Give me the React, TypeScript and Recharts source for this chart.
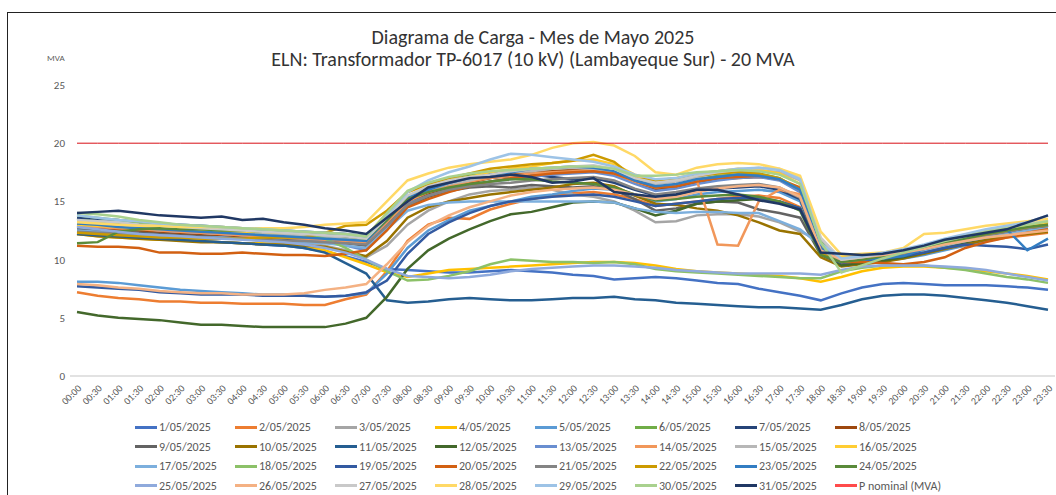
import { LineChart, Line, XAxis, YAxis } from "recharts";

const FONT =
  "Carlito, Calibri, 'Liberation Sans Narrow', 'DejaVu Sans Condensed', Roboto, sans-serif";

const times = [
  "00:00", "00:30", "01:00", "01:30", "02:00", "02:30", "03:00", "03:30",
  "04:00", "04:30", "05:00", "05:30", "06:00", "06:30", "07:00", "07:30",
  "08:00", "08:30", "09:00", "09:30", "10:00", "10:30", "11:00", "11:30",
  "12:00", "12:30", "13:00", "13:30", "14:00", "14:30", "15:00", "15:30",
  "16:00", "16:30", "17:00", "17:30", "18:00", "18:30", "19:00", "19:30",
  "20:00", "20:30", "21:00", "21:30", "22:00", "22:30", "23:00", "23:30",
];

const dayLabels = [
  "1/05/2025", "2/05/2025", "3/05/2025", "4/05/2025", "5/05/2025", "6/05/2025",
  "7/05/2025", "8/05/2025", "9/05/2025", "10/05/2025", "11/05/2025", "12/05/2025",
  "13/05/2025", "14/05/2025", "15/05/2025", "16/05/2025", "17/05/2025", "18/05/2025",
  "19/05/2025", "20/05/2025", "21/05/2025", "22/05/2025", "23/05/2025", "24/05/2025",
  "25/05/2025", "26/05/2025", "27/05/2025", "28/05/2025", "29/05/2025", "30/05/2025",
  "31/05/2025",
];

const dayColors = [
  "#4472C4", "#ED7D31", "#A5A5A5", "#FFC000", "#5B9BD5", "#70AD47",
  "#264478", "#9E480E", "#636363", "#997300", "#255E91", "#43682B",
  "#698ED0", "#F1975A", "#B7B7B7", "#FFCD33", "#7CAFDD", "#8CC168",
  "#335AA1", "#D26012", "#848484", "#CC9A00", "#327DC2", "#5A8A39",
  "#8FAADC", "#F4B183", "#C9C9C9", "#FFD966", "#9DC3E6", "#A9D18E",
  "#203864",
];

// MVA por media hora, 1/05 .. 31/05
const d01 = [
  12.4, 12.3, 12.1, 12.0, 11.9, 11.8, 11.6, 11.5, 11.4, 11.3, 11.2, 11.0,
  10.7, 10.3, 9.8, 9.2, 9.1, 9.0, 8.9, 8.9, 9.0, 9.1, 9.0, 8.9,
  8.7, 8.6, 8.3, 8.4, 8.5, 8.4, 8.2, 8.0, 7.9, 7.5, 7.2, 6.9,
  6.5, 7.1, 7.6, 7.9, 8.0, 7.9, 7.8, 7.8, 7.8, 7.7, 7.6, 7.4,
];
const d02 = [
  7.2, 6.9, 6.7, 6.6, 6.4, 6.4, 6.3, 6.3, 6.2, 6.2, 6.2, 6.1,
  6.1, 6.6, 7.0, 9.0, 11.6, 13.0, 13.6, 13.5, 14.3, 14.8, 15.2, 15.5,
  15.7, 15.8, 15.6, 15.2, 14.6, 14.8, 15.0, 15.2, 15.4, 15.5, 15.3, 14.5,
  10.5, 9.8, 9.9, 10.0, 10.2, 10.5, 10.9, 11.2, 11.6, 11.9, 12.1, 12.3,
];
const d03 = [
  12.9, 12.7, 12.6, 12.4, 12.3, 12.2, 12.1, 11.9, 11.8, 11.6, 11.5, 11.4,
  11.2, 10.8, 10.2, 11.2, 13.0, 14.2, 15.0, 15.6, 15.9, 16.0, 16.2, 16.0,
  15.6, 15.4, 15.0, 14.2, 13.2, 13.3, 13.8, 13.9, 13.9, 13.7, 13.2, 12.4,
  11.6, 9.6, 9.7, 9.9, 10.2, 10.6, 11.0, 11.4, 11.8, 12.1, 12.4, 12.6,
];
const d04 = [
  12.2, 12.0, 11.9, 11.8, 11.7, 11.7, 11.6, 11.5, 11.4, 11.4, 11.3, 11.1,
  10.8, 10.2, 9.6, 8.9, 8.5, 8.8, 9.1, 9.2, 9.3, 9.4, 9.5, 9.6,
  9.7, 9.8, 9.8, 9.7, 9.5, 9.2, 9.0, 8.9, 8.8, 8.7, 8.6, 8.4,
  8.1, 8.5, 9.0, 9.3, 9.4, 9.4, 9.3, 9.2, 9.0, 8.8, 8.6, 8.3,
];
const d05 = [
  8.1, 8.1, 8.0, 7.8, 7.6, 7.4, 7.3, 7.2, 7.1, 7.0, 7.0, 6.9,
  6.8, 6.9, 7.1, 8.8, 11.0, 12.5, 13.4, 14.2, 14.6, 15.0, 15.4, 15.6,
  15.9, 16.1, 16.0, 15.5, 15.0, 15.2, 15.6, 15.8, 15.9, 16.0, 15.8, 15.0,
  11.0, 9.7, 9.8, 9.9, 10.1, 10.4, 10.8, 11.2, 11.6, 12.0, 12.3, 12.6,
];
const d06 = [
  13.5, 13.3, 13.1, 12.9, 12.8, 12.7, 12.6, 12.5, 12.4, 12.3, 12.2, 12.1,
  12.0, 11.9, 11.8, 13.6, 15.4, 16.2, 16.8, 17.2, 17.5, 17.6, 17.8, 17.6,
  17.7, 17.8, 17.5, 16.8, 16.2, 16.4, 16.9, 17.2, 17.3, 17.4, 17.0, 16.0,
  11.5, 9.9, 10.2, 10.4, 10.7, 11.1, 11.5, 11.9, 12.3, 12.6, 12.9, 13.1,
];
const d07 = [
  13.6, 13.5, 13.4, 13.2, 13.1, 13.0, 12.9, 12.8, 12.7, 12.6, 12.5, 12.4,
  12.3, 12.2, 12.0, 13.8, 15.2, 15.9, 16.4, 16.8, 17.0, 17.2, 17.3, 17.1,
  16.9, 17.0, 16.6, 16.0, 15.5, 15.6, 15.9, 16.1, 16.2, 16.3, 16.0, 15.2,
  10.6, 10.1, 10.3, 10.5, 10.8, 11.2, 11.6, 12.0, 12.4, 12.8, 13.1, 13.4,
];
const d08 = [
  12.8, 12.7, 12.6, 12.5, 12.3, 12.2, 12.1, 12.0, 11.9, 11.9, 11.8, 11.7,
  11.6, 11.5, 11.3, 13.0, 14.9, 15.6, 16.1, 16.6, 17.0, 17.3, 17.5, 17.6,
  17.7, 17.6, 17.3, 16.6, 16.0, 16.2, 16.6, 16.9, 17.0, 17.1, 16.9, 16.0,
  10.9, 9.8, 10.0, 10.2, 10.4, 10.8, 11.3, 11.7, 12.1, 12.5, 12.7, 12.9,
];
const d09 = [
  12.6, 12.5, 12.4, 12.3, 12.2, 12.1, 12.0, 11.9, 11.8, 11.7, 11.7, 11.6,
  11.5, 11.4, 11.2, 12.8, 14.6, 15.4, 15.9, 16.2, 16.3, 16.2, 16.4, 16.3,
  16.2, 16.3, 16.0, 15.2, 14.2, 14.4, 14.8, 15.0, 14.9, 14.3, 14.0, 13.6,
  10.4, 9.6, 9.8, 10.0, 10.3, 10.6, 11.0, 11.4, 11.8, 12.1, 12.4, 12.7,
];
const d10 = [
  12.2, 12.0, 11.9, 11.8, 11.7, 11.6, 11.5, 11.5, 11.4, 11.3, 11.3, 11.2,
  11.1, 10.7, 10.3, 11.6, 13.6, 14.5, 15.0, 15.3, 15.6, 15.8, 16.0, 16.2,
  16.5, 16.6, 16.3, 15.5, 14.8, 14.7, 14.4, 14.2, 13.8, 13.2, 12.5, 12.2,
  10.2, 9.4, 9.6, 9.8, 10.1, 10.5, 10.9, 11.3, 11.7, 12.0, 12.2, 12.4,
];
const d11 = [
  12.2, 12.1, 12.0, 11.9, 11.8, 11.7, 11.6, 11.5, 11.4, 11.3, 11.2, 11.0,
  10.6, 9.7, 8.8, 6.5, 6.3, 6.4, 6.6, 6.7, 6.6, 6.5, 6.5, 6.6,
  6.7, 6.7, 6.8, 6.6, 6.5, 6.3, 6.2, 6.1, 6.0, 5.9, 5.9, 5.8,
  5.7, 6.1, 6.6, 6.9, 7.0, 7.0, 6.9, 6.7, 6.5, 6.3, 6.0, 5.7,
];
const d12 = [
  5.5, 5.2, 5.0, 4.9, 4.8, 4.6, 4.4, 4.4, 4.3, 4.2, 4.2, 4.2,
  4.2, 4.5, 5.0, 6.8, 9.2, 10.8, 11.8, 12.6, 13.3, 13.9, 14.1, 14.5,
  14.9, 15.0, 14.9, 14.4, 13.8, 14.2, 14.8, 15.0, 15.1, 15.2, 15.0, 14.4,
  10.8, 9.5, 9.7, 9.9, 10.2, 10.6, 11.0, 11.5, 11.9, 12.3, 12.6, 12.9,
];
const d13 = [
  13.0, 12.9, 12.8, 12.7, 12.5, 12.4, 12.3, 12.2, 12.1, 12.0, 11.9, 11.8,
  11.6, 11.2, 10.8, 12.8, 14.8, 15.5, 16.0, 16.4, 16.7, 16.9, 17.1, 17.3,
  17.4, 17.5, 17.2, 16.5, 15.9, 16.1, 16.5, 16.8, 17.0, 17.1, 16.8, 15.8,
  10.7, 9.9, 10.1, 10.3, 10.6, 11.0, 11.4, 11.8, 12.2, 12.5, 12.8, 13.0,
];
const d14 = [
  12.9, 12.8, 12.7, 12.6, 12.5, 12.4, 12.3, 12.2, 12.1, 12.0, 11.9, 11.8,
  11.7, 11.6, 11.4, 13.2, 15.0, 15.8, 16.3, 16.7, 17.0, 17.2, 17.4, 17.5,
  17.6, 17.7, 17.4, 16.7, 16.2, 16.4, 16.8, 11.3, 11.2, 15.0, 16.0, 15.6,
  10.8, 9.9, 10.1, 10.4, 10.7, 11.1, 11.5, 11.9, 12.3, 12.6, 12.9, 13.2,
];
const d15 = [
  13.2, 13.1, 13.0, 12.9, 12.8, 12.7, 12.6, 12.5, 12.4, 12.3, 12.2, 12.1,
  12.0, 11.9, 11.7, 13.5, 15.3, 16.0, 16.5, 16.8, 17.2, 17.5, 17.6, 17.8,
  17.9, 17.8, 17.5, 16.9, 16.5, 16.7, 17.1, 17.4, 17.6, 17.7, 17.5, 16.8,
  11.8, 10.0, 10.2, 10.5, 10.8, 11.2, 11.6, 12.0, 12.4, 12.7, 13.0, 13.3,
];
const d16 = [
  13.0, 12.9, 12.8, 12.7, 12.6, 12.6, 12.5, 12.5, 12.4, 12.4, 12.3, 12.3,
  12.2, 12.1, 12.0, 14.0, 15.8, 16.4, 16.8, 17.1, 17.5, 17.8, 18.0, 18.3,
  18.5, 18.6, 18.2, 17.3, 16.8, 17.0, 17.4, 17.6, 17.8, 17.7, 17.4, 16.5,
  11.2, 10.2, 10.3, 10.5, 10.8, 11.2, 11.6, 12.0, 12.4, 12.7, 13.0, 13.2,
];
const d17 = [
  12.5, 12.4, 12.3, 12.2, 12.1, 12.0, 11.9, 11.9, 11.8, 11.7, 11.6, 11.5,
  11.4, 11.2, 11.0, 12.6, 14.2, 14.7, 14.9, 15.0, 15.0, 15.0, 15.0, 15.0,
  15.0, 15.0, 14.9, 14.4, 14.1, 14.0, 14.1, 14.1, 14.0, 14.0, 13.3, 12.6,
  11.2, 9.9, 10.0, 10.2, 10.5, 10.8, 11.2, 11.6, 11.9, 12.2, 12.5, 12.7,
];
const d18 = [
  13.8, 13.6, 13.4, 13.2, 13.0, 12.9, 12.8, 12.7, 12.6, 12.5, 12.4, 12.2,
  11.8, 11.0, 10.0, 9.0, 8.2, 8.3, 8.6, 9.0, 9.6, 10.0, 9.9, 9.8,
  9.8, 9.7, 9.8, 9.6, 9.2, 9.0, 8.9, 8.8, 8.7, 8.6, 8.5, 8.4,
  8.4, 9.0, 9.3, 9.5, 9.5, 9.5, 9.3, 9.1, 8.8, 8.5, 8.3, 8.0,
];
const d19 = [
  7.7, 7.6, 7.5, 7.4, 7.2, 7.1, 7.0, 7.0, 7.0, 6.9, 6.9, 6.9,
  6.8, 6.9, 7.2, 8.2, 10.5, 12.2, 13.2, 14.0, 14.6, 15.0, 15.2, 15.4,
  15.5, 15.6, 15.4, 15.0, 14.6, 14.8, 15.0, 15.2, 15.3, 15.3, 15.0, 14.4,
  10.5, 9.7, 9.9, 10.1, 10.3, 10.6, 11.0, 11.3, 11.2, 11.1, 10.9, 11.3,
];
const d20 = [
  11.2, 11.1, 11.1, 11.0, 10.6, 10.6, 10.5, 10.5, 10.6, 10.5, 10.4, 10.4,
  10.3, 10.5, 10.8, 12.5, 14.5, 15.2, 15.8, 16.3, 16.7, 17.0, 17.2, 17.4,
  17.5, 17.6, 17.4, 16.8, 16.2, 16.3, 16.7, 17.0, 17.1, 17.2, 16.9, 16.2,
  11.0, 9.8, 9.8, 9.7, 9.6, 9.8, 10.2, 11.0, 11.5, 11.9, 12.3, 12.6,
];
const d21 = [
  12.4, 12.3, 12.3, 12.2, 12.1, 12.0, 11.9, 11.8, 11.8, 11.7, 11.6, 11.6,
  11.5, 11.4, 11.3, 12.9, 14.7, 15.5, 16.0, 16.3, 16.5, 16.6, 16.8, 16.9,
  17.0, 17.1, 16.8, 16.1, 15.6, 15.8, 16.1, 16.3, 16.4, 16.5, 16.2, 15.3,
  10.6, 9.8, 10.0, 10.2, 10.5, 10.9, 11.3, 11.7, 12.1, 12.4, 12.7, 12.9,
];
const d22 = [
  12.3, 12.2, 12.1, 12.0, 11.9, 11.9, 11.8, 11.8, 11.8, 11.9, 11.9, 11.9,
  12.3, 12.9, 13.0, 14.2, 15.8, 16.5, 17.0, 17.4, 17.8, 18.0, 18.2, 18.3,
  18.5, 19.0, 18.4, 17.0, 16.8, 17.0, 17.2, 17.4, 17.5, 17.4, 17.0, 16.0,
  10.5, 9.8, 10.0, 10.3, 10.6, 11.0, 11.4, 11.8, 12.2, 12.5, 12.8, 13.0,
];
const d23 = [
  13.1, 13.0, 12.8, 12.7, 12.6, 12.5, 12.4, 12.3, 12.2, 12.1, 12.0, 11.9,
  11.8, 11.7, 11.6, 13.4, 15.3, 16.0, 16.6, 17.0, 17.3, 17.5, 17.8, 17.9,
  18.0, 17.9, 17.6, 16.8, 16.3, 16.5, 16.9, 17.1, 17.3, 17.2, 16.9, 16.0,
  11.0, 9.9, 10.0, 10.1, 10.3, 10.9, 11.4, 11.9, 12.3, 12.6, 10.8, 11.8,
];
const d24 = [
  11.4, 11.5, 12.4, 12.6, 12.7, 12.6, 12.6, 12.5, 12.5, 12.4, 12.4, 12.3,
  12.2, 12.0, 11.8, 13.4, 15.2, 15.8, 16.2, 16.5, 16.7, 16.9, 16.9, 16.7,
  16.6, 16.5, 16.2, 15.6, 15.1, 15.2, 15.4, 15.5, 15.6, 15.4, 15.0, 14.2,
  10.4, 9.8, 10.0, 10.3, 10.6, 11.0, 11.4, 11.8, 12.2, 12.5, 12.8, 13.0,
];
const d25 = [
  12.8, 12.6, 12.4, 12.2, 12.1, 12.0, 11.9, 11.8, 11.7, 11.6, 11.5, 11.3,
  11.0, 10.6, 10.0, 9.2, 8.6, 8.5, 8.4, 8.5, 8.7, 9.0, 9.2, 9.3,
  9.4, 9.5, 9.5, 9.4, 9.3, 9.1, 9.0, 8.9, 8.8, 8.8, 8.8, 8.8,
  8.7, 9.1, 9.4, 9.5, 9.5, 9.5, 9.4, 9.3, 9.1, 8.8, 8.5, 8.2,
];
const d26 = [
  7.9, 7.8, 7.6, 7.5, 7.3, 7.2, 7.1, 7.1, 7.0, 7.0, 7.0, 7.1,
  7.4, 7.6, 7.9, 9.6, 11.5, 12.9, 13.8, 14.5, 15.0, 15.5, 15.8, 16.0,
  16.1, 16.2, 16.0, 15.6, 15.2, 15.4, 15.8, 16.1, 16.3, 16.4, 16.2, 15.4,
  10.8, 10.0, 10.2, 10.4, 10.6, 10.9, 11.3, 11.6, 11.9, 12.1, 12.3, 12.5,
];
const d27 = [
  13.4, 13.3, 13.2, 13.0, 12.9, 12.8, 12.7, 12.6, 12.5, 12.4, 12.3, 12.2,
  12.1, 12.0, 11.8, 13.6, 15.5, 16.3, 16.8, 17.1, 17.3, 17.6, 17.8, 17.9,
  18.0, 18.1, 17.8, 17.0, 16.6, 16.8, 17.2, 17.5, 17.7, 17.9, 17.8, 17.0,
  11.9, 10.0, 10.2, 10.5, 10.8, 11.2, 11.7, 12.1, 12.5, 12.8, 13.1, 13.4,
];
const d28 = [
  13.2, 13.1, 13.0, 12.9, 12.9, 12.8, 12.8, 12.8, 12.7, 12.7, 12.7, 12.8,
  13.0, 13.1, 13.2, 15.0, 16.8, 17.4, 17.9, 18.2, 18.4, 18.6, 19.0, 19.6,
  20.0, 20.1, 19.8, 18.9, 17.5, 17.3, 17.9, 18.2, 18.3, 18.2, 17.8, 17.2,
  12.4, 10.4, 10.5, 10.6, 11.0, 12.2, 12.3, 12.6, 12.9, 13.1, 13.3, 13.5,
];
const d29 = [
  13.8, 13.6, 13.4, 13.3, 13.1, 13.0, 12.9, 12.8, 12.7, 12.6, 12.5, 12.4,
  12.3, 12.2, 12.0, 13.8, 15.8, 16.8, 17.5, 18.0, 18.6, 19.1, 19.0, 18.8,
  18.6, 18.4, 18.0, 17.3, 16.9, 17.0, 17.4, 17.6, 17.8, 17.9, 17.7, 16.9,
  11.4, 10.1, 10.3, 10.6, 10.9, 11.3, 11.8, 12.2, 12.6, 12.9, 13.2, 13.8,
];
const d30 = [
  14.0, 13.9, 13.7, 13.4, 13.2, 13.0, 12.9, 12.8, 12.7, 12.6, 12.5, 12.4,
  12.3, 12.2, 12.0, 14.0, 15.9, 16.6, 17.1, 17.4, 17.6, 17.7, 17.8, 17.9,
  18.0, 18.0, 17.8, 17.2, 17.2, 17.3, 17.5, 17.6, 17.7, 17.6, 17.3, 16.5,
  11.5, 8.9, 9.5, 10.1, 10.6, 11.1, 11.6, 12.0, 12.4, 12.7, 13.0, 13.3,
];
const d31 = [
  14.0, 14.1, 14.2, 14.0, 13.8, 13.7, 13.6, 13.7, 13.4, 13.5, 13.2, 13.0,
  12.7, 12.5, 12.2, 13.6, 15.0, 16.2, 16.6, 17.0, 17.1, 17.3, 17.1, 16.6,
  16.7, 17.0, 15.8, 15.6, 15.4, 15.6, 16.0, 16.0, 15.6, 15.1, 14.8, 14.3,
  10.6, 10.5, 10.4, 10.5, 10.8, 11.2, 11.7, 12.0, 12.3, 12.6, 13.2, 13.8,
];

const pNominal = [
  20, 20, 20, 20, 20, 20, 20, 20, 20, 20, 20, 20,
  20, 20, 20, 20, 20, 20, 20, 20, 20, 20, 20, 20,
  20, 20, 20, 20, 20, 20, 20, 20, 20, 20, 20, 20,
  20, 20, 20, 20, 20, 20, 20, 20, 20, 20, 20, 20,
];

const yTicks = [0, 5, 10, 15, 20, 25];

const daySeries = [
  d01, d02, d03, d04, d05, d06, d07, d08, d09, d10, d11, d12, d13, d14, d15, d16,
  d17, d18, d19, d20, d21, d22, d23, d24, d25, d26, d27, d28, d29, d30, d31,
];

const data = times.map((t, i) => {
  const row: Record<string, string | number> = { time: t, pnom: pNominal[i] };
  daySeries.forEach((s, k) => {
    row["d" + (k + 1)] = s[i];
  });
  return row;
});

const legendItems = [
  ...dayLabels.map((label, k) => ({ label, color: dayColors[k] })),
  { label: "P nominal (MVA)", color: "#FF4B4B" },
];

const legendRows = [0, 1, 2, 3].map((r) => legendItems.slice(r * 8, r * 8 + 8));
const rowTops = [427, 446.5, 466, 485.5];

export default function App() {
  return (
    <div
      style={{
        position: "relative",
        width: 1056,
        height: 495,
        background: "#fff",
        fontFamily: FONT,
        overflow: "hidden",
      }}
    >
      <style>{`body{margin:0}`}</style>
      <div
        style={{
          position: "absolute",
          left: 7,
          top: 12,
          right: 0,
          bottom: -2,
          borderLeft: "1px solid #222",
          borderTop: "1px solid #222",
        }}
      />
      <div
        style={{
          position: "absolute",
          left: 0,
          width: 1066,
          top: 26,
          textAlign: "center",
          fontSize: 20,
          lineHeight: "22px",
          color: "#333",
        }}
      >
        <div>Diagrama de Carga - Mes de Mayo 2025</div>
        <div>ELN: Transformador TP-6017 (10 kV) (Lambayeque Sur) - 20 MVA</div>
      </div>
      <div
        style={{
          position: "absolute",
          left: 47,
          top: 52,
          fontSize: 9,
          color: "#595959",
        }}
      >
        MVA
      </div>

      <div style={{ position: "absolute", left: 0, top: 0 }}>
        <LineChart
          width={1056}
          height={495}
          data={data}
          margin={{ top: 85, right: 1, bottom: 0, left: 0 }}
        >
          <XAxis
            dataKey="time"
            interval={0}
            height={119}
            padding={{ left: 7, right: 7 }}
            axisLine={{ stroke: "#D9D9D9", strokeWidth: 1.5 }}
            tickLine={false}
            tickSize={4}
            tickMargin={4}
            angle={-45}
            textAnchor="end"
            tick={{ fontSize: 10, fill: "#595959", fontFamily: FONT }}
          />
          <YAxis
            domain={[0, 25]}
            ticks={yTicks}
            width={70}
            axisLine={false}
            tickLine={false}
            tickSize={3}
            tickMargin={2}
            tick={{ fontSize: 11, fill: "#595959", fontFamily: FONT }}
          />
          {daySeries.map((_s, k) => (
            <Line
              key={"d" + (k + 1)}
              type="linear"
              dataKey={"d" + (k + 1)}
              name={dayLabels[k]}
              stroke={dayColors[k]}
              strokeWidth={2.5}
              dot={false}
              isAnimationActive={false}
            />
          ))}
          <Line
            type="linear"
            dataKey="pnom"
            name="P nominal (MVA)"
            stroke="#D80F16"
            strokeWidth={1}
            dot={false}
            isAnimationActive={false}
          />
        </LineChart>
      </div>

      {legendRows.map((row, r) =>
        row.map((item, c) => (
          <div
            key={item.label}
            style={{
              position: "absolute",
              left: 135 + c * 100,
              top: rowTops[r] - 7,
              height: 14,
              display: "flex",
              alignItems: "center",
              fontSize: 12,
              color: "#595959",
              whiteSpace: "nowrap",
            }}
          >
            <span
              style={{
                display: "inline-block",
                width: 22,
                height: 3,
                background: item.color,
                marginRight: 2,
              }}
            />
            {item.label}
          </div>
        ))
      )}
    </div>
  );
}
